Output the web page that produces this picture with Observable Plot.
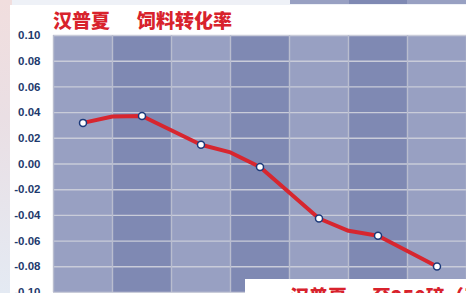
<!DOCTYPE html>
<html><head><meta charset="utf-8">
<script src="https://cdn.jsdelivr.net/npm/d3@7"></script>
<script src="https://cdn.jsdelivr.net/npm/@observablehq/plot@0.6"></script>
<style>
html,body{margin:0;padding:0;}
body{width:466px;height:293px;overflow:hidden;position:relative;background:#eef1f7;font-family:"Liberation Sans",Arial,sans-serif;}
#bgl{position:absolute;left:0;top:0;width:12px;height:293px;background:linear-gradient(#f1dede,#eadfe4 40%,#e4eaf3);}
#bgt{position:absolute;left:200px;top:0;width:50px;height:6px;background:#eef0f6;}
#panel{position:absolute;left:10px;top:5px;width:456px;height:288px;background:#fff;}
#strip{position:absolute;left:290px;top:0;width:176px;height:4px;background:linear-gradient(90deg,#98a0c2 0 59px,#7f89b3 59px 117px,#98a0c2 117px);}
#chart{position:absolute;left:0;top:0;}
.t{position:absolute;font-family:"Noto Sans CJK SC",sans-serif;font-weight:900;font-size:19px;color:#d8222c;white-space:pre;line-height:24px;}
#box{position:absolute;left:245px;top:279px;width:221px;height:14px;background:#fff;overflow:hidden;}
</style></head>
<body>
<div id="bgl"></div><div id="bgt"></div><div id="panel"></div><div id="strip"></div>
<div id="chart"></div>
<div class="t" style="left:53px;top:8px;">汉普夏</div>
<div class="t" style="left:137px;top:8px;">饲料转化率</div>
<div id="box"><div class="t" style="left:45px;top:5px;">汉普夏</div><div class="t" style="left:127px;top:5px;">至250磅（天</div></div>
<script>
// column positions (one per category)
const categories = [1, 2, 3, 4, 5, 6, 7];
// marked data values at each category
const values = [0.032, 0.0374, 0.015, -0.0023, -0.0424, -0.0558, -0.0798];
// unmarked bend points of the line between categories
const bendPositions = [1.5, 3.5, 5.5];
const bendValues = [0.037, 0.009, -0.052];
// y tick labels
const yTicks = [0.10, 0.08, 0.06, 0.04, 0.02, 0.00, -0.02, -0.04, -0.06, -0.08, -0.10];

const points = categories.map((c, i) => ({x: c, y: values[i]}));
const bends = bendPositions.map((c, i) => ({x: c, y: bendValues[i]}));
const linePts = [...points, ...bends].sort((a, b) => a.x - b.x);
const cols = categories.map((c, i) => ({c, dark: i % 2 === 1}));
const bounds = [0.5, ...categories.map(c => c + 0.5)];

const chart = Plot.plot({
  width: 466, height: 293,
  marginLeft: 53, marginRight: 0, marginTop: 35, marginBottom: 1,
  style: {background: "transparent", fontFamily: "Liberation Sans, Arial, sans-serif"},
  x: {domain: [0.5, 7.5], axis: null},
  y: {domain: [-0.1, 0.1], ticks: yTicks, tickFormat: d => d.toFixed(2), tickSize: 0, tickPadding: 13, label: null},
  marks: [
    Plot.rect(cols, {x1: d => d.c - 0.5, x2: d => d.c + 0.5, y1: -0.1, y2: 0.1, fill: d => d.dark ? "#7f89b3" : "#98a0c2"}),
    Plot.ruleY(yTicks, {stroke: "#c9ccd9", strokeWidth: 1.4}),
    Plot.ruleX(bounds, {stroke: "#b9bdcf", strokeWidth: 1.4}),
    Plot.axisY({ticks: yTicks, tickFormat: d => d.toFixed(2), tickSize: 0, tickPadding: 13, fill: "#1e3a6d", fontWeight: "bold", fontSize: 11.5, label: null}),
    Plot.line(linePts, {x: "x", y: "y", stroke: "#d7262f", strokeWidth: 4, strokeLinejoin: "miter"}),
    Plot.dot(points, {x: "x", y: "y", r: 3.5, fill: "white", stroke: "#1c3a7a", strokeWidth: 1.5})
  ]
});
document.getElementById("chart").appendChild(chart);
</script>
</body></html>
